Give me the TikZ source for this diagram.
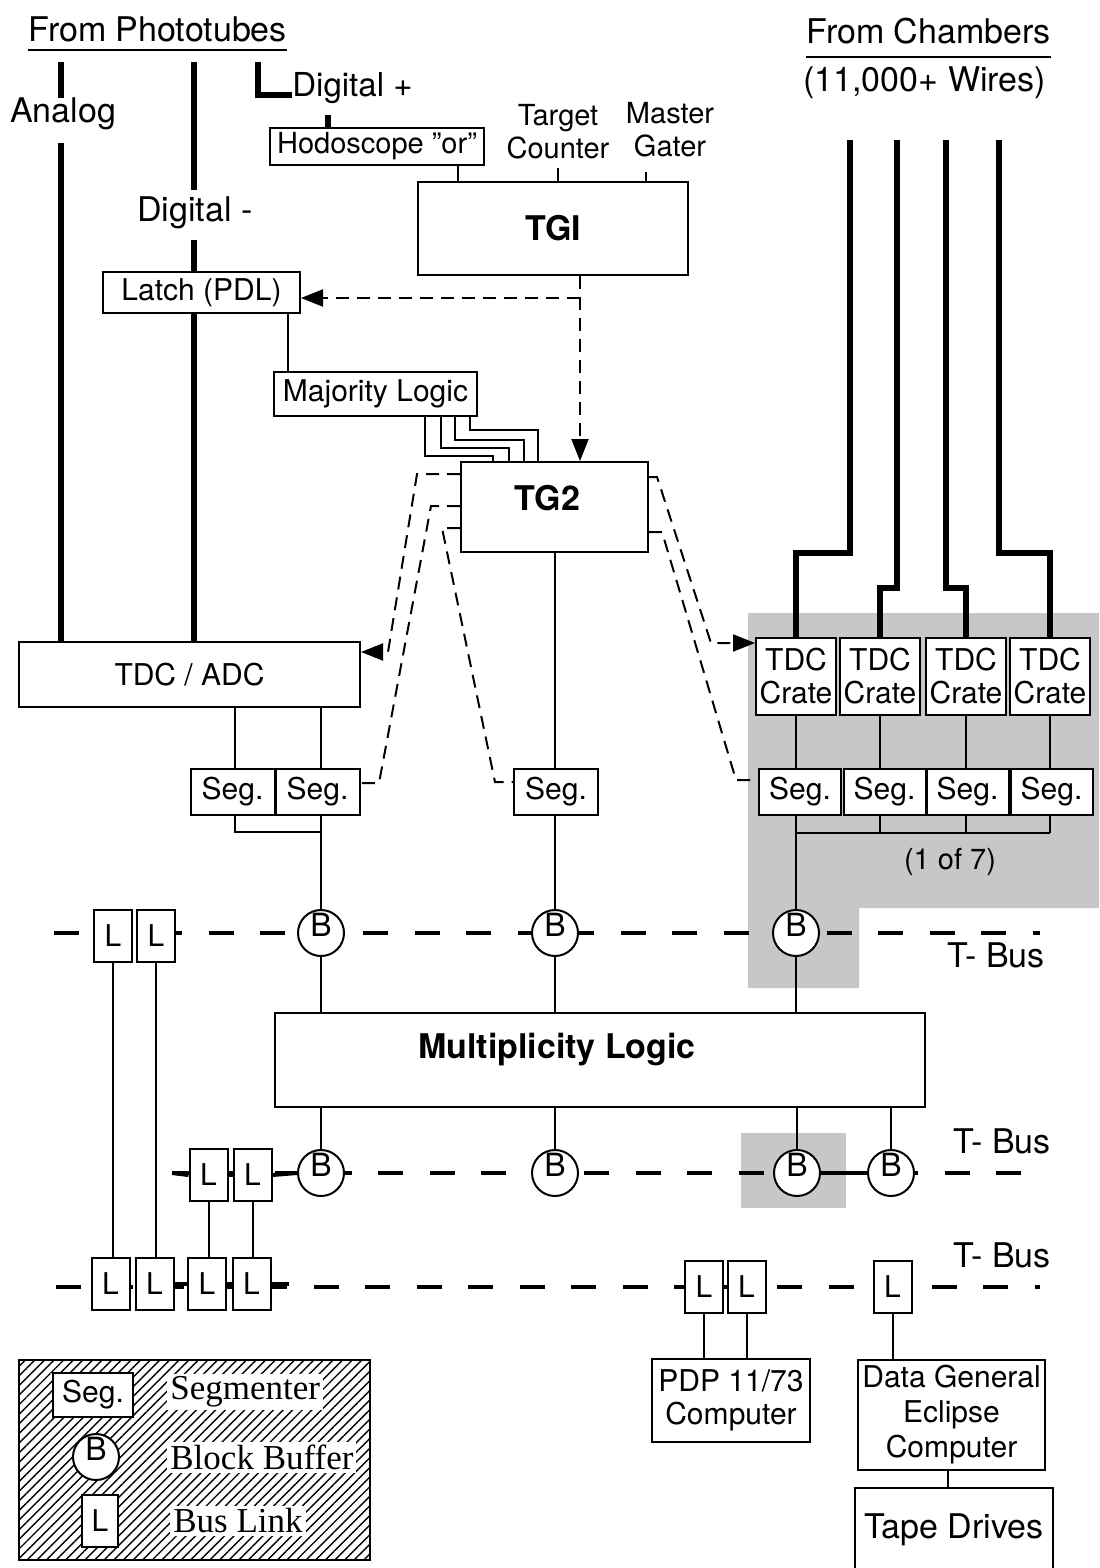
\documentclass[tikz,border=0pt]{standalone}
\usepackage{fontspec}
\setmainfont{TeX Gyre Heros}
\newfontfamily\legendserif{Liberation Serif}
\usetikzlibrary{arrows.meta,patterns.meta}
\newcommand\fsz[2]{\fontsize{#1pt}{#2pt}\selectfont}
\pgfdeclarelayer{bg}
\pgfsetlayers{bg,main}
\begin{document}
\begin{tikzpicture}[x=0.5pt,y=-0.5pt,
 box/.style={draw, line width=1pt, fill=white, inner sep=0pt, align=center, font=\fsz{15}{16.5}},
 sz/.style 2 args={minimum width=#1*0.5pt, minimum height=#2*0.5pt},
 txt/.style={inner sep=0pt, font=\fsz{17}{19}},
 wire/.style={line width=1pt},
 heavy/.style={line width=3.2pt},
 trig/.style={line width=1pt, dash pattern=on 6.5pt off 4pt},
 bus/.style={line width=2pt},
 busdash/.style={line width=2pt, dash pattern=on 12.5pt off 13.25pt},
 bbuf/.style={circle, draw, line width=1pt, fill=white, minimum size=23pt, inner sep=0pt,
   label={[font=\fsz{16}{16}, yshift=4pt]center:B}},
 link/.style={box, sz={38}{52}, font=\fsz{15}{15}},
 seg/.style={box, sz={84}{46}},
 crate/.style={box, sz={80}{77}},
 tip/.style={-{Triangle[length=11pt,width=8.5pt]}},
 big/.style={font=\bfseries\fsz{17}{19}},
 shade/.style={fill=black!22},
 lgtxt/.style={fill=white, inner sep=1.5pt, font=\legendserif\fsz{17.5}{19}},
]
\useasboundingbox (0,0) rectangle (1099,1568);

% ---------- titles ----------
\node[txt, anchor=base west] (ptitle) at (28,42) {From Phototubes};
\node[txt, anchor=base west] (ctitle) at (806,44) {From Chambers};
\node[txt, anchor=base west] (cwires) at (803,92) {(11,000+ Wires)};
\draw[wire] ([yshift=-4pt]ptitle.base west) -- ([yshift=-4pt]ptitle.base east);
\draw[wire] ([yshift=-6.5pt]ctitle.base west) -- ([yshift=-6.5pt]ctitle.base east);

\node[txt, anchor=base] (analog) at (63,123) {Analog};
\node[txt, anchor=base] (dminus) at (195,221) {Digital -};
\node[txt, anchor=base west, font=\fsz{16.5}{18}] (dplus) at (292,97) {Digital +};

% ---------- trigger boxes ----------
\node[box, sz={214}{37}, font=\fsz{14.5}{16}] (hodo) at (377,146.5) {Hodoscope "or"};
\node[txt, align=center, font=\fsz{14.5}{16.5}] (target) at (558,132) {Target\\Counter};
\node[txt, align=center, font=\fsz{14.5}{16.5}] (master) at (670,130) {Master\\Gater};
\node[box, sz={270}{93}, big] (tg1) at (553,228.5) {TGI};
\node[box, sz={197}{41}] (latch) at (201.5,292.5) {Latch (PDL)};
\node[box, sz={203}{44}] (majority) at (375.5,394) {Majority Logic};
\node[box, sz={187}{90}, label={[big, xshift=-3.5pt, yshift=4.5pt]center:TG2}] (tg2) at (554.5,507) {};

% ---------- digitizers ----------
\node[box, sz={341}{65}] (tdcadc) at (189.5,674.5) {TDC / ADC};
\node[seg] (seg1) at (232.5,792) {Seg.};
\node[seg] (seg2) at (317.5,792) {Seg.};
\node[seg] (segc) at (556,792) {Seg.};
\node[crate] (cr1) at (796,676.5) {TDC\\Crate};
\node[crate] (cr2) at (880,676.5) {TDC\\Crate};
\node[crate] (cr3) at (966,676.5) {TDC\\Crate};
\node[crate] (cr4) at (1050,676.5) {TDC\\Crate};
\node[seg, sz={82}{46}] (rs1) at (800,792) {Seg.};
\node[seg, sz={82}{46}] (rs2) at (884.5,792) {Seg.};
\node[seg, sz={82}{46}] (rs3) at (967.5,792) {Seg.};
\node[seg, sz={82}{46}] (rs4) at (1051.5,792) {Seg.};
\node[txt, font=\fsz{14.5}{16}] (oneof) at (950,862) {(1 of 7)};

% ---------- T-Bus rows ----------
\node[link] (l1a) at (113,936) {L};
\node[link] (l1b) at (156,936) {L};
\node[bbuf] (b1) at (321,933) {};
\node[bbuf] (b2) at (555,933) {};
\node[bbuf] (b3) at (796,933) {};

\node[box, sz={650}{94}, label={[big, xshift=-21.5pt, yshift=5pt]center:Multiplicity Logic}] (mult) at (600,1060) {};

\node[link] (l2a) at (208.5,1175) {L};
\node[link] (l2b) at (252.5,1175) {L};
\node[bbuf] (b4) at (321,1173) {};
\node[bbuf] (b5) at (555,1173) {};
\node[bbuf] (b6) at (797,1173) {};
\node[bbuf] (b7) at (891,1173) {};

\node[link] (l3a) at (110.5,1284) {L};
\node[link] (l3b) at (154.5,1284) {L};
\node[link] (l3c) at (207,1284) {L};
\node[link] (l3d) at (251.5,1284) {L};
\node[link] (l3e) at (704,1286.5) {L};
\node[link] (l3f) at (746.5,1286.5) {L};
\node[link] (l3g) at (892.5,1286.5) {L};

\node[txt, anchor=base] (tbus1) at (996,967) {T- Bus};
\node[txt, anchor=base] (tbus2) at (1002,1153) {T- Bus};
\node[txt, anchor=base] (tbus3) at (1002,1267) {T- Bus};

% ---------- computers ----------
\node[box, sz={158}{83}] (pdp) at (731,1400.5) {PDP 11/73\\Computer};
\node[box, sz={187}{110}, font=\fsz{15}{17.5}] (dg) at (951.5,1415) {Data General\\Eclipse\\Computer};
\node[box, sz={198}{87}, font=\fsz{17}{19}] (tape) at (954,1531.5) {\raisebox{5pt}{Tape Drives}};

% ---------- legend ----------
\node[draw, line width=1.2pt, sz={351}{200}, inner sep=0pt,
      pattern={Lines[angle=45,distance=3.4pt,line width=0.7pt]}] (legend) at (194.5,1460) {};
\node[box, sz={80}{44}] (lgseg) at (93,1395) {Seg.};
\node[bbuf] (lgb) at (96,1457) {};
\node[link, sz={36}{52}] (lgl) at (100,1521) {L};
\node[lgtxt, anchor=west] (lgt1) at (167,1392) {Segmenter};
\node[lgtxt, anchor=west] (lgt2) at (167,1457) {Block Buffer};
\node[lgtxt, anchor=west] (lgt3) at (170,1521) {Bus Link};

% ---------- coordinates ----------
\coordinate (an1) at (61,62);
\coordinate (an2) at (61,143);
\coordinate (dm1) at (194,62);
\coordinate (dm2) at (194,240);
\coordinate (dp1) at (258,62);
\coordinate (hd) at (328,115);
\coordinate (hx) at (458,0);
\coordinate (mt) at (646,172);
\coordinate (tv) at (580,0);
\coordinate (th) at (580,298);
\coordinate (lm) at (288,0);
\coordinate (p1) at (417,474);
\coordinate (p2) at (388,652);
\coordinate (p3) at (431,506);
\coordinate (p4) at (379,783);
\coordinate (p5) at (442,528);
\coordinate (p6) at (495,782);
\coordinate (p7) at (657,477);
\coordinate (p8) at (711,643);
\coordinate (p9) at (662,532);
\coordinate (p10) at (736,780);
\coordinate (j1) at (235,832);
\coordinate (j2) at (796,833);
\coordinate (dt) at (948,0);
\coordinate (bus1w) at (54,933);
\coordinate (bus1e) at (1040,933);
\coordinate (bus2w) at (172,1173);
\coordinate (bus2e) at (1022,1173);
\coordinate (bus3w) at (56,1287);
\coordinate (bus3e) at (1040,1287);

% ---------- background: shading and buses ----------
\begin{pgfonlayer}{bg}
\fill[shade] (748,613) -- (1099,613) -- (1099,908) -- (859,908) -- (859,988) -- (748,988) -- cycle;
\fill[shade] (741,1133) rectangle (846,1208);
\draw[busdash] (bus1w) -- (bus1e);
\draw[busdash] (bus2w) -- (bus2e);
\draw[busdash] (bus3w) -- (bus3e);
\end{pgfonlayer}

% ---------- phototube signals ----------
\draw[heavy] (an1) -- (an1 |- analog.north);
\draw[heavy] (an2) -- (an2 |- tdcadc.north);
\draw[heavy] (dm1) -- ++(0,128);
\draw[heavy] (dm2) -- (dm2 |- latch.north);
\draw[heavy] (latch.south -| dm2) -- (dm2 |- tdcadc.north);
\draw[heavy] (dp1) |- ([yshift=1pt]dplus.base west);
\draw[heavy] (hd) -- (hd |- hodo.north);

% ---------- trigger connections ----------
\draw[wire] (hodo.south -| hx) -- (hx |- tg1.north);
\draw[wire] ([yshift=-4pt]target.south) -- (target.south |- tg1.north);
\draw[wire] (mt) -- (mt |- tg1.north);
\draw[trig, tip] (tg1.south -| tv) -- (tv |- tg2.north);
\draw[trig, tip] (th) -- (th -| latch.east);
\draw[wire] (latch.south -| lm) -- (lm |- majority.north);
\foreach \a/\b/\c in {425/456/493, 441/448/509, 455/440/524, 470/430/538} {
  \coordinate (ma) at (\a,\b);
  \coordinate (mb) at (\c,\b);
  \draw[wire] (majority.south -| ma) -- (ma) -- (mb) -- (mb |- tg2.north);
}
\draw[trig, tip] (tg2.west |- p1) -- (p1) -- (p2) -- (p2 -| tdcadc.east);
\draw[trig] (tg2.west |- p3) -- (p3) -- (p4) -- (p4 -| seg2.east);
\draw[trig] (tg2.west |- p5) -- (p5) -- (p6) -- (p6 -| segc.west);
\draw[trig, tip] (tg2.east |- p7) -- (p7) -- (p8) -- (p8 -| cr1.west);
\draw[trig] (tg2.east |- p9) -- (p9) -- (p10) -- (p10 -| rs1.west);

% ---------- data paths ----------
\draw[wire] (tg2.south) -- (tg2.south |- segc.north);
\draw[wire] (segc.south -| b2) -- (b2.north);
\draw[wire] (b2.south) -- (b2.south |- mult.north);

\draw[wire] (tdcadc.south -| j1) -- (seg1.north -| j1);
\draw[wire] (tdcadc.south -| b1) -- (seg2.north -| b1);
\draw[wire] (seg1.south -| j1) -- (j1) -- (j1 -| b1);
\draw[wire] (seg2.south -| b1) -- (b1.north);
\draw[wire] (b1.south) -- (b1.south |- mult.north);

\coordinate (cw1) at (850,140); \coordinate (ck1) at (850,553);
\coordinate (cw2) at (897,140); \coordinate (ck2) at (897,588);
\coordinate (cw3) at (946,140); \coordinate (ck3) at (946,588);
\coordinate (cw4) at (999,140); \coordinate (ck4) at (999,553);
\foreach \i in {1,...,4} {
  \draw[heavy] (cw\i) -- (ck\i) -| (cr\i.north);
  \draw[wire] (cr\i.south) -- (cr\i.south |- rs\i.north);
  \draw[wire] (rs\i.south -| cr\i) -- (j2 -| cr\i);
}
\draw[wire] (j2 -| cr1) -- (j2 -| cr4);
\draw[wire] (j2 -| cr1) -- (b3.north);
\draw[wire] (b3.south) -- (b3.south |- mult.north);

\foreach \b in {b4,b5,b6,b7} \draw[wire] (\b.north |- mult.south) -- (\b.north);

\draw[wire] (l1a.south) -- (l1a.south |- l3a.north);
\draw[wire] (l1b.south) -- (l1b.south |- l3b.north);
\draw[wire] (l2a.south) -- (l2a.south |- l3c.north);
\draw[wire] (l2b.south) -- (l2b.south |- l3d.north);
\draw[wire] (l3e.south) -- (l3e.south |- pdp.north);
\draw[wire] (l3f.south) -- (l3f.south |- pdp.north);
\draw[wire] (l3g.south) -- (l3g.south |- dg.north);
\draw[wire] (dg.south -| dt) -- (dt |- tape.north);

% ---------- bus stubs ----------
\draw[bus] (bus2w) -- (l2a.west);
\draw[bus] (l2a.east) -- (l2b.west);
\draw[bus] (l2b.east) -- (b4.west);
\draw[bus] (b6.east) -- (b7.west);
\draw[bus] (l3b.east) -- (l3c.west);
\draw[bus] (l3c.east) -- (l3d.west);
\draw[bus] (l3d.east) -- ++(17,0);
\draw[bus] (l3e.west) -- ++(-7,0);
\draw[bus] (l3e.east) -- (l3f.west);
\end{tikzpicture}
\end{document}
